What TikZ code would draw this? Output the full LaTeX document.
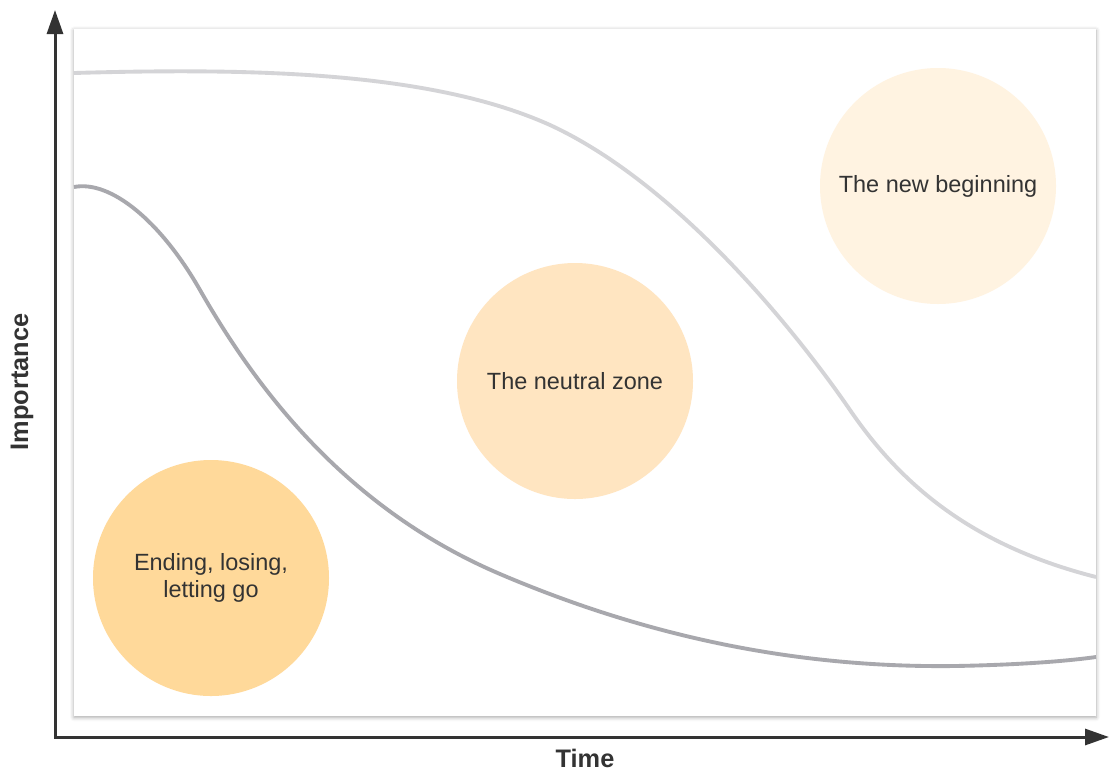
\documentclass[tikz,border=0pt]{standalone}
\usepackage{fontspec}
\setmainfont{Liberation Sans}
\usetikzlibrary{arrows.meta}
\usetikzlibrary{shadows.blur}
\definecolor{ink}{HTML}{333333}
\definecolor{pale}{HTML}{D4D4D7}
\definecolor{dim}{HTML}{A8A8AD}
\definecolor{ending}{HTML}{FFD99A}
\definecolor{neutral}{HTML}{FFE5C1}
\definecolor{newstart}{HTML}{FFF3E1}

\begin{document}
\begin{tikzpicture}[x=0.75pt,y=-0.75pt,
		phase/.style={circle,minimum size=177pt,inner sep=0pt,text=ink,align=center,font=\fontsize{17.6}{20.5}\selectfont},
		axislabel/.style={text=ink,inner sep=0pt,font=\bfseries\fontsize{19}{21}\selectfont}]
		\useasboundingbox (0,0) rectangle (1110,772);
		\coordinate (O) at (55,737);
		\coordinate (Y) at (55,10);
		\coordinate (X) at (1109,737);
		% plot area
		\fill [white,blur shadow={shadow xshift=0pt,shadow yshift=-1pt,shadow blur radius=3pt,shadow opacity=35}] (74,29) rectangle (1096,716);
		\node [phase,fill=ending] (end) at (211,578) {Ending, losing,\\letting go};
		\node [phase,fill=neutral] (zone) at (575,381) {The neutral zone};
		\node [phase,fill=newstart] (begin) at (938,186) {The new beginning};
		\draw [pale,line width=2.9pt] (74,73) .. controls (250,68) and (430,71) .. (550,125)
			.. controls (680,185) and (800,337) .. (850,410)
			.. controls (900,483) and (970,545) .. (1096,577);
		\draw [dim,line width=2.9pt] (74,187) .. controls (110,180) and (160,220) .. (200,290)
			.. controls (260,395) and (350,510) .. (500,574)
			.. controls (650,638) and (800,668) .. (955,666)
			.. controls (1010,665) and (1060,662) .. (1096,657);
		% axes
		\draw [ink,line width=2.25pt,{Triangle[length=18pt,width=12pt]}-{Triangle[length=18pt,width=12pt]}] (Y) -- (O) -- (X);
		\node [axislabel,rotate=90] (imp) at (22,382) {Importance};
		\node [axislabel] (time) at (585,758) {Time};
\end{tikzpicture}
\end{document}
